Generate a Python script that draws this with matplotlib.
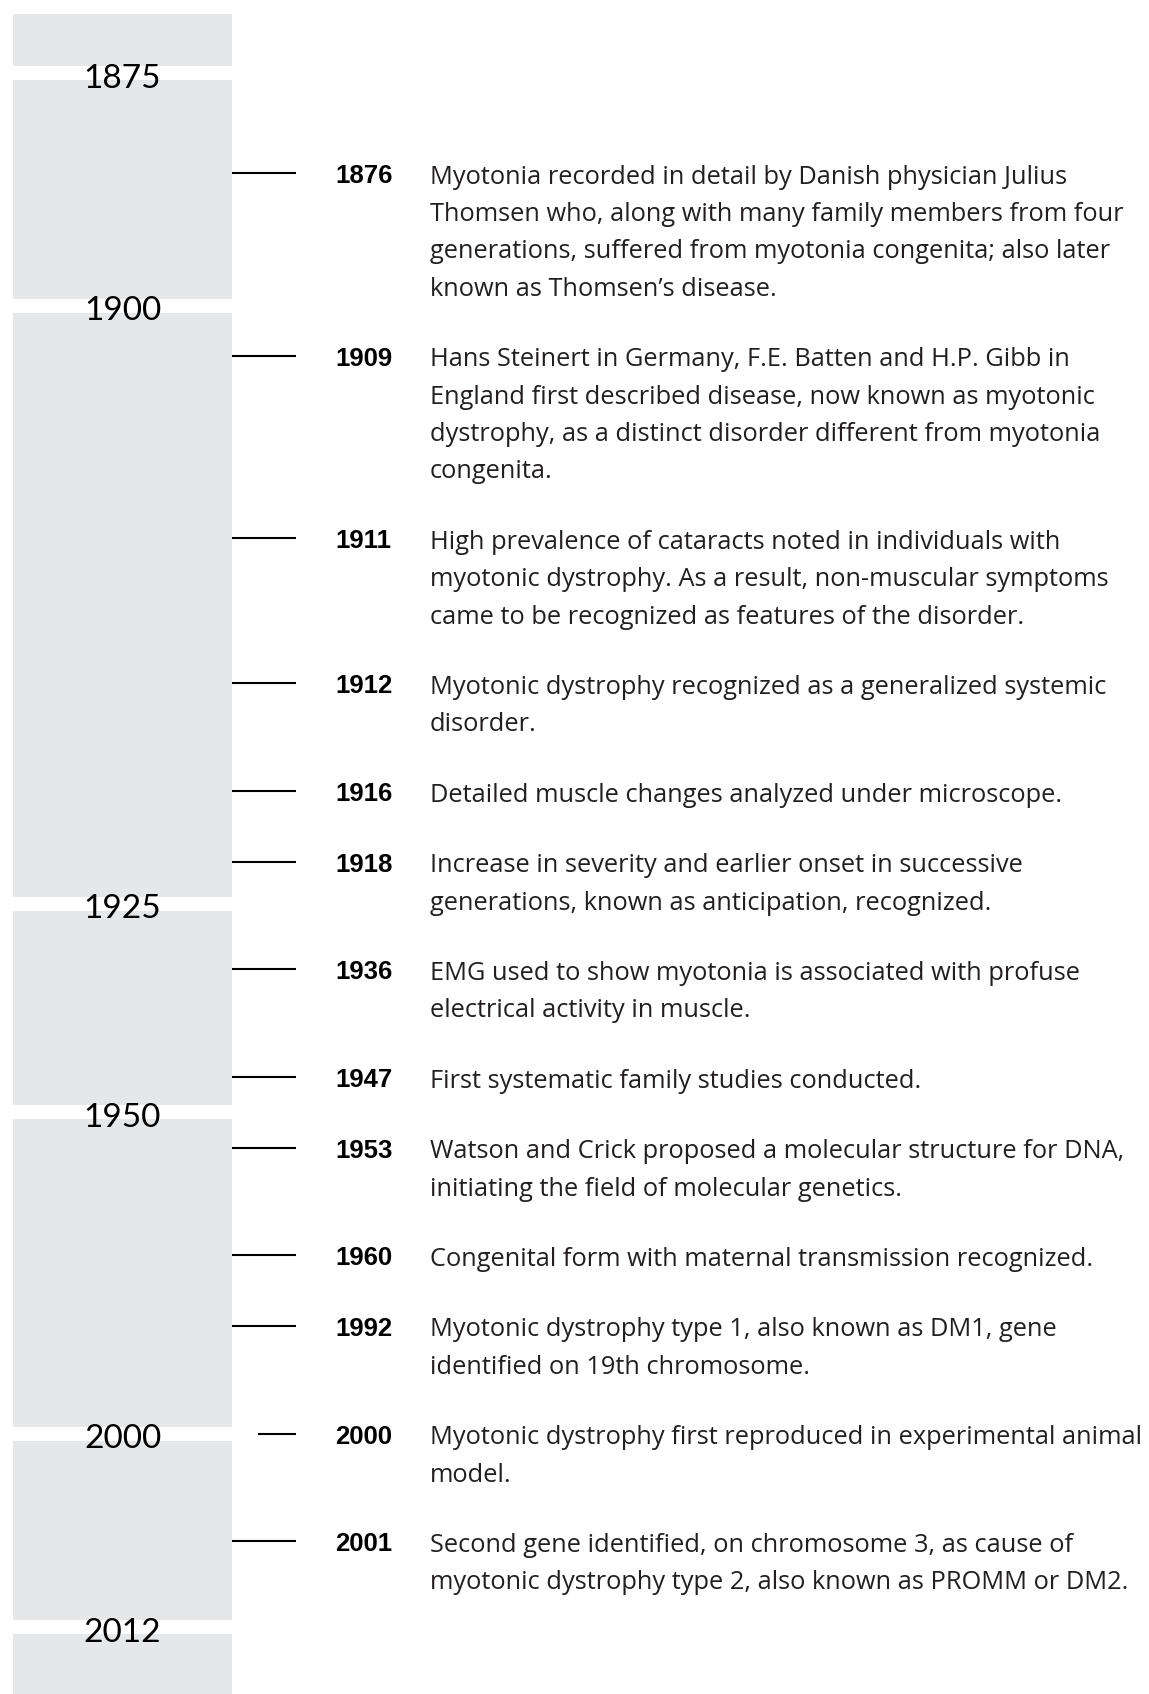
import matplotlib.pyplot as plt
import numpy as np

# timeline data
event_years = [1876, 1909, 1911, 1912, 1916, 1918, 1936, 1947, 1953, 1960, 1992, 2000, 2001]
event_text = [
    "Myotonia recorded in detail by Danish physician Julius\n"
    "Thomsen who, along with many family members from four\n"
    "generations, suffered from myotonia congenita; also later\n"
    "known as Thomsen\u2019s disease.",
    "Hans Steinert in Germany, F.E. Batten and H.P. Gibb in\n"
    "England first described disease, now known as myotonic\n"
    "dystrophy, as a distinct disorder different from myotonia\n"
    "congenita.",
    "High prevalence of cataracts noted in individuals with\n"
    "myotonic dystrophy. As a result, non-muscular symptoms\n"
    "came to be recognized as features of the disorder.",
    "Myotonic dystrophy recognized as a generalized systemic\n"
    "disorder.",
    "Detailed muscle changes analyzed under microscope.",
    "Increase in severity and earlier onset in successive\n"
    "generations, known as anticipation, recognized.",
    "EMG used to show myotonia is associated with profuse\n"
    "electrical activity in muscle.",
    "First systematic family studies conducted.",
    "Watson and Crick proposed a molecular structure for DNA,\n"
    "initiating the field of molecular genetics.",
    "Congenital form with maternal transmission recognized.",
    "Myotonic dystrophy type 1, also known as DM1, gene\n"
    "identified on 19th chromosome.",
    "Myotonic dystrophy first reproduced in experimental animal\n"
    "model.",
    "Second gene identified, on chromosome 3, as cause of\n"
    "myotonic dystrophy type 2, also known as PROMM or DM2.",
]
milestones = [1875, 1900, 1925, 1950, 2000, 2012]

# layout (pixels, figure is 1149 x 1694)
W, H = 1149, 1694
LINE_H = 37.4
BLOCK_GAP = 33
FIRST_Y = 173
BAND_L, BAND_R, BAND_TOP = 13, 232, 14
GRAY = '#e6e7e8'
INK = '#231f20'

# stack events by their number of text lines
nlines = [t.count('\n') + 1 for t in event_text]
event_y = [FIRST_Y]
for n in nlines[:-1]:
    event_y.append(event_y[-1] + n * LINE_H + BLOCK_GAP)
event_y = np.array(event_y)

# milestone years placed on the same year->position scale
mile_y = np.interp(milestones, event_years, event_y)
mile_y[0] = event_y[0] - 100
mile_y[-1] = event_y[-1] + 86

fig = plt.figure(figsize=(W / 100, H / 100), dpi=100)
ax = fig.add_axes([0, 0, 1, 1])
ax.set_xlim(0, W)
ax.set_ylim(H, 0)
ax.axis('off')

# gray band broken at each milestone
edges = [BAND_TOP]
for m in mile_y:
    edges += [m - 7, m + 7]
edges.append(H)
for top, bot in zip(edges[::2], edges[1::2]):
    ax.bar((BAND_L + BAND_R) / 2, bot - top, bottom=top, width=BAND_R - BAND_L,
           color=GRAY, linewidth=0)

for yr, m in zip(milestones, mile_y):
    ax.text((BAND_L + BAND_R) / 2, m + 14.5, str(yr), ha='center', va='baseline',
            fontsize=24, family='Lato', color='black')

for yr, y, txt in zip(event_years, event_y, event_text):
    x0 = 258 if yr in milestones else BAND_R
    ax.plot([x0, 296], [y, y], color='black', lw=1.5, solid_capstyle='butt')
    ax.text(335, y + 10, str(yr), ha='left', va='baseline', fontsize=18.5,
            fontweight='bold', family='Liberation Sans', color='black')
    for i, line in enumerate(txt.split('\n')):
        ax.text(430, y + 10.5 + i * LINE_H, line, ha='left', va='baseline',
                fontsize=18.3, family='Open Sans', color=INK)

plt.savefig('out.png', dpi=100)
